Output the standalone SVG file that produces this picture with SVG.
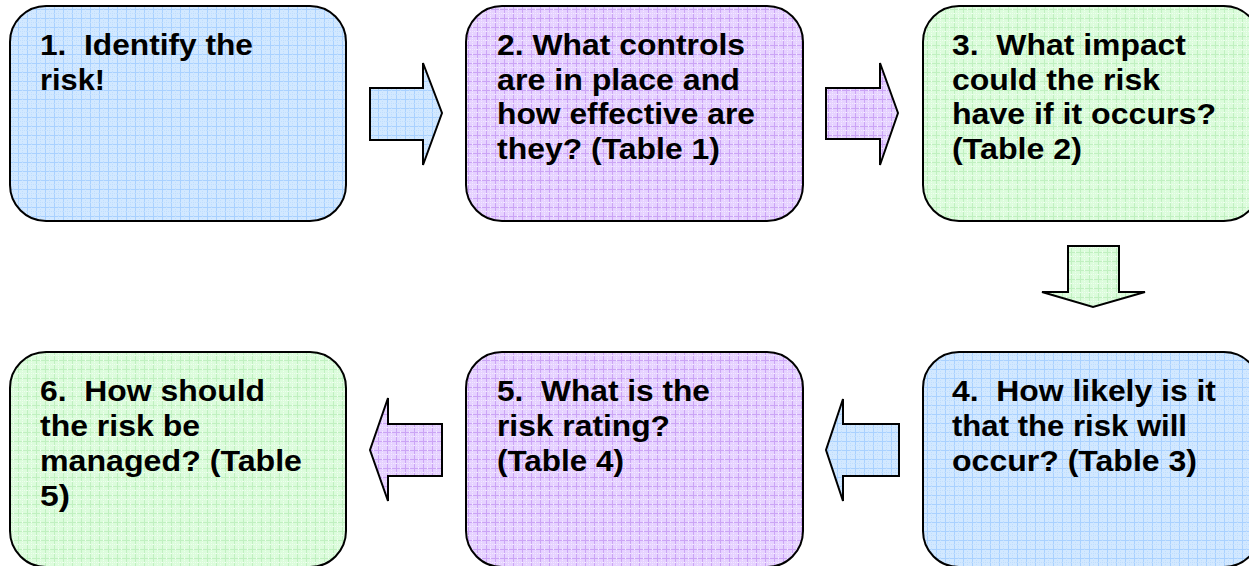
<svg xmlns="http://www.w3.org/2000/svg" width="1249" height="566" viewBox="0 0 1249 566">
<defs>
<pattern id="pBlue" width="9" height="9" patternUnits="userSpaceOnUse">
<rect width="9" height="9" fill="#d2e8ff"/>
<path d="M0 0.5H9M0.5 0V9" stroke="#a9d1ff" stroke-width="1"/>
<path d="M0 4.5H9M4.5 0V9" stroke="#c0defe" stroke-width="1" stroke-dasharray="1 1"/>
</pattern>
<pattern id="pPurple" width="9" height="9" patternUnits="userSpaceOnUse">
<rect width="9" height="9" fill="#e6d2ff"/>
<path d="M0 0.5H9M0.5 0V9" stroke="#cba4f5" stroke-width="1"/>
<path d="M0 4.5H9M4.5 0V9" stroke="#f2e8ff" stroke-width="1" stroke-dasharray="1 1"/>
</pattern>
<pattern id="pGreen" width="9" height="9" patternUnits="userSpaceOnUse">
<rect width="9" height="9" fill="#dcfcdc"/>
<path d="M0 0.5H9M0.5 0V9" stroke="#c0f0c0" stroke-width="1"/>
<path d="M0 4.5H9M4.5 0V9" stroke="#eefeee" stroke-width="1" stroke-dasharray="1 1"/>
</pattern>
</defs>
<style>
.box{stroke:#000;stroke-width:2}
.arr{stroke:#000;stroke-width:2;stroke-linejoin:miter}
.t{font-family:"Liberation Sans",Arial,sans-serif;font-weight:bold;font-size:30px;fill:#000;white-space:pre}
</style>
<rect width="1249" height="566" fill="#fff"/>
<g id="node1">
<rect class="box" x="10" y="6" width="336" height="215" rx="36" fill="url(#pBlue)"/>
<text class="t" xml:space="preserve"><tspan x="40" y="55" textLength="213" lengthAdjust="spacingAndGlyphs">1.  Identify the</tspan><tspan x="40" y="90" textLength="65" lengthAdjust="spacingAndGlyphs">risk!</tspan></text>
</g>
<g id="node2">
<rect class="box" x="466" y="6" width="337" height="215" rx="36" fill="url(#pPurple)"/>
<text class="t" xml:space="preserve"><tspan x="497" y="55" textLength="248" lengthAdjust="spacingAndGlyphs">2. What controls</tspan><tspan x="497" y="89.5" textLength="243" lengthAdjust="spacingAndGlyphs">are in place and</tspan><tspan x="497" y="124" textLength="258" lengthAdjust="spacingAndGlyphs">how effective are</tspan><tspan x="497" y="158.5" textLength="223" lengthAdjust="spacingAndGlyphs">they? (Table 1)</tspan></text>
</g>
<g id="node3">
<rect class="box" x="923" y="6" width="337" height="215" rx="36" fill="url(#pGreen)"/>
<text class="t" xml:space="preserve"><tspan x="952" y="55" textLength="234" lengthAdjust="spacingAndGlyphs">3.  What impact</tspan><tspan x="952" y="89.5" textLength="208" lengthAdjust="spacingAndGlyphs">could the risk</tspan><tspan x="952" y="124" textLength="264" lengthAdjust="spacingAndGlyphs">have if it occurs?</tspan><tspan x="952" y="158.5" textLength="130" lengthAdjust="spacingAndGlyphs">(Table 2)</tspan></text>
</g>
<g id="node4">
<rect class="box" x="923" y="352" width="337" height="215" rx="36" fill="url(#pBlue)"/>
<text class="t" xml:space="preserve"><tspan x="952" y="401" textLength="264" lengthAdjust="spacingAndGlyphs">4.  How likely is it</tspan><tspan x="952" y="436" textLength="235" lengthAdjust="spacingAndGlyphs">that the risk will</tspan><tspan x="952" y="471" textLength="245" lengthAdjust="spacingAndGlyphs">occur? (Table 3)</tspan></text>
</g>
<g id="node5">
<rect class="box" x="466" y="352" width="337" height="215" rx="36" fill="url(#pPurple)"/>
<text class="t" xml:space="preserve"><tspan x="497" y="401" textLength="213" lengthAdjust="spacingAndGlyphs">5.  What is the</tspan><tspan x="497" y="436" textLength="173" lengthAdjust="spacingAndGlyphs">risk rating?</tspan><tspan x="497" y="471" textLength="127" lengthAdjust="spacingAndGlyphs">(Table 4)</tspan></text>
</g>
<g id="node6">
<rect class="box" x="10" y="352" width="336" height="215" rx="36" fill="url(#pGreen)"/>
<text class="t" xml:space="preserve"><tspan x="40" y="401" textLength="225" lengthAdjust="spacingAndGlyphs">6.  How should</tspan><tspan x="40" y="436" textLength="160" lengthAdjust="spacingAndGlyphs">the risk be</tspan><tspan x="40" y="471" textLength="262" lengthAdjust="spacingAndGlyphs">managed? (Table</tspan><tspan x="40" y="506" textLength="30" lengthAdjust="spacingAndGlyphs">5)</tspan></text>
</g>
<g id="connectors">
<polygon class="arr" fill="url(#pBlue)" points="370,88 423,88 423,63 442,113 423,165 423,140 370,140"/>
<polygon class="arr" fill="url(#pPurple)" points="826,88 880,88 880,63 898,113 880,165 880,139 826,139"/>
<polygon class="arr" fill="url(#pGreen)" points="1068,246 1119,246 1119,292 1145,292 1093,307 1042,292 1068,292"/>
<polygon class="arr" fill="url(#pBlue)" points="899,424 843,424 843,399 826,450 843,501 843,476 899,476"/>
<polygon class="arr" fill="url(#pPurple)" points="442,424 388,424 388,398 370,450 388,501 388,476 442,476"/>
</g>
</svg>
